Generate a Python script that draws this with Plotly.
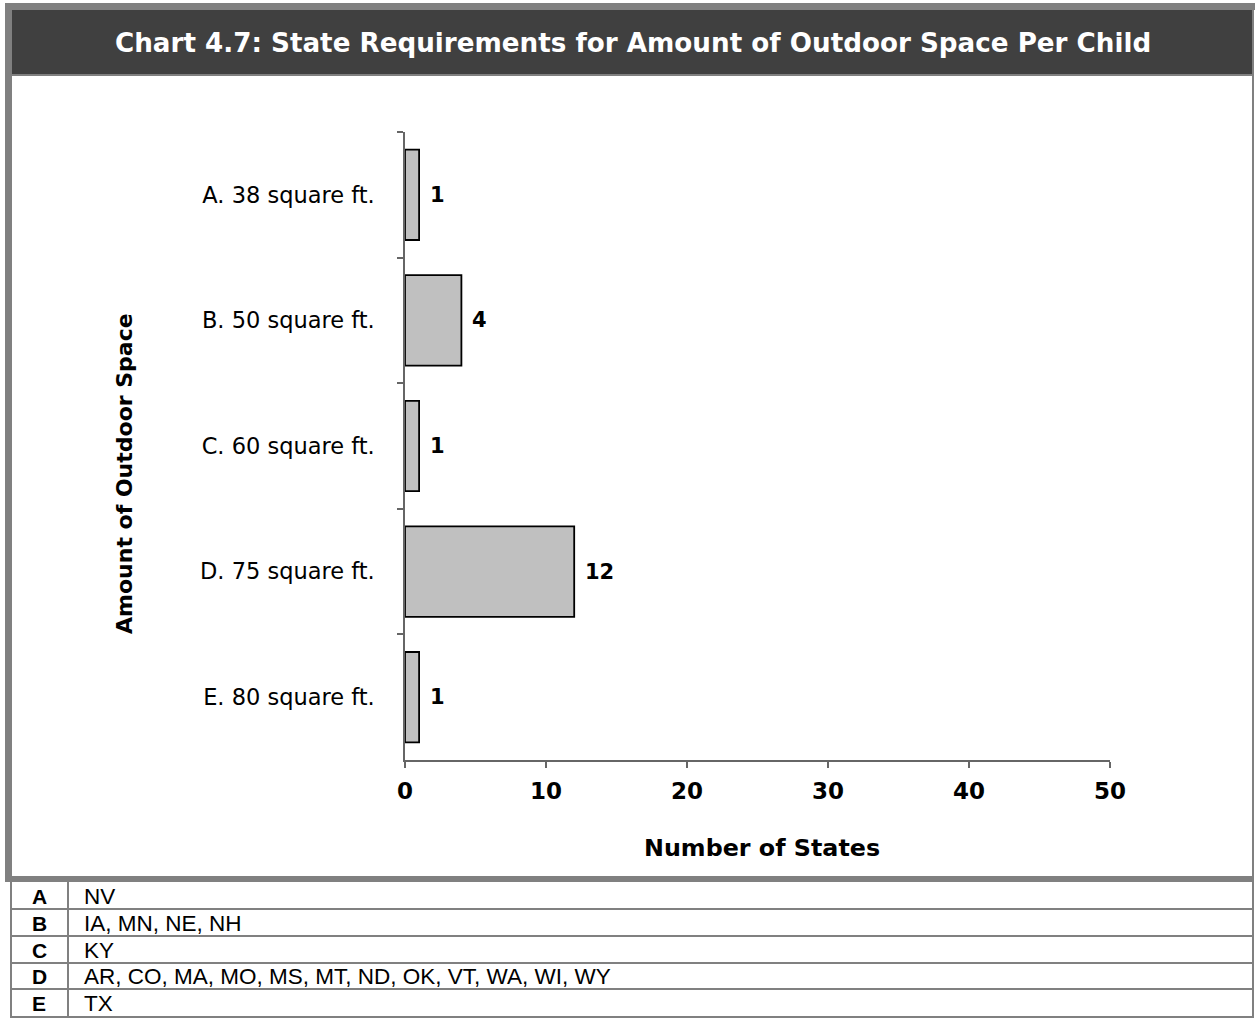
import plotly.graph_objects as go

W, H = 1255, 1018

# ---- data ----
categories = ["A. 38 square ft.", "B. 50 square ft.", "C. 60 square ft.",
              "D. 75 square ft.", "E. 80 square ft."]
num_states = [1, 4, 1, 12, 1]
x_ticks = [0, 10, 20, 30, 40, 50]

table_letters = ["A", "B", "C", "D", "E"]
table_states = ["NV", "IA, MN, NE, NH", "KY",
                "AR, CO, MA, MO, MS, MT, ND, OK, VT, WA, WI, WY", "TX"]

title_text = "Chart 4.7: State Requirements for Amount of Outdoor Space Per Child"
y_title = "Amount of Outdoor Space"
x_title = "Number of States"


def X(px):
    return px / W


def Y(py):
    return 1 - py / H


VERD = "DejaVu Sans"
ARIAL = "Liberation Sans, Arial"
GRAY = "#808080"

fig = go.Figure()
fig.add_trace(go.Bar(
    x=num_states, y=categories, orientation="h",
    marker=dict(color="#c0c0c0", line=dict(color="black", width=1.8)),
    hoverinfo="skip", showlegend=False,
))

annotations = []
# data labels
for c, v in zip(categories, num_states):
    annotations.append(dict(
        x=v, y=c, xref="x", yref="y", text=str(v), showarrow=False,
        xanchor="left", yanchor="middle", xshift=9,
        font=dict(family=VERD, size=21, color="black", weight="bold"),
    ))

# title
annotations.append(dict(
    x=X(633), y=Y(43), xref="paper", yref="paper", text=title_text,
    showarrow=False, xanchor="center", yanchor="middle",
    font=dict(family=VERD, size=26.2, color="white", weight="bold"),
))
# axis titles
annotations.append(dict(
    x=X(124), y=Y(474), xref="paper", yref="paper", text=y_title,
    showarrow=False, xanchor="center", yanchor="middle", textangle=-90,
    font=dict(family=VERD, size=22, color="black", weight="bold"),
))
annotations.append(dict(
    x=X(762), y=Y(848), xref="paper", yref="paper", text=x_title,
    showarrow=False, xanchor="center", yanchor="middle",
    font=dict(family=VERD, size=23.8, color="black", weight="bold"),
))

# table text
row_edges = [882, 909, 936, 963, 989, 1017]
for i, (L, s) in enumerate(zip(table_letters, table_states)):
    yc = (row_edges[i] + row_edges[i + 1]) / 2 + 0.5
    annotations.append(dict(
        x=X(39), y=Y(yc), xref="paper", yref="paper", text=L,
        showarrow=False, xanchor="center", yanchor="middle",
        font=dict(family=ARIAL, size=21, color="black", weight="bold"),
    ))
    annotations.append(dict(
        x=X(82), y=Y(yc), xref="paper", yref="paper", text=s,
        showarrow=False, xanchor="left", yanchor="middle",
        font=dict(family=ARIAL, size=22.5, color="black"),
    ))

shapes = []


def rect(x0, y0, x1, y1, color):
    shapes.append(dict(type="rect", xref="paper", yref="paper",
                       x0=X(x0), x1=X(x1), y0=Y(y1), y1=Y(y0),
                       fillcolor=color, line=dict(width=0), layer="below"))


# outer frame
rect(5, 3, 1255, 10, GRAY)          # top border
rect(5, 3, 12, 882, GRAY)           # left thick border
rect(10, 876, 12, 1018, GRAY)       # left border (table)
rect(1252, 3, 1254, 1018, GRAY)     # right border
rect(12, 10, 1252, 74, "#404040")   # title band
rect(12, 74, 1252, 76, GRAY)        # line under title
rect(5, 876, 1254, 882, GRAY)       # thick line above table
for e in row_edges[1:]:
    rect(10, e - 1, 1254, e + 1, GRAY)
rect(67, 882, 69, 1018, GRAY)       # column separator

fig.update_layout(
    width=W, height=H,
    margin=dict(l=0, r=0, t=0, b=0),
    paper_bgcolor="white", plot_bgcolor="white",
    template="none",
    bargap=0.28,
    shapes=shapes,
    annotations=annotations,
    xaxis=dict(
        domain=[X(405), X(1110)], range=[0, 50], tickvals=x_ticks,
        showgrid=False, zeroline=False, showline=True, linecolor="#666666",
        linewidth=1.5, ticks="outside", ticklen=6, tickcolor="#666666",
        tickwidth=1.5, automargin=False,
        tickfont=dict(family=VERD, size=23, color="black", weight="bold"),
        ticklabelstandoff=4,
    ),
    yaxis=dict(
        domain=[Y(760), Y(132)], autorange="reversed",
        categoryorder="array", categoryarray=categories,
        showgrid=False, zeroline=False, showline=True, linecolor="#666666",
        linewidth=1.5, ticks="outside", ticklen=6, tickcolor="#666666",
        tickwidth=1.5, tickson="boundaries", automargin=False,
        tickfont=dict(family=VERD, size=22.5, color="black"),
        ticklabelstandoff=24,
    ),
)

fig.write_html("out.html",
               config={"displayModeBar": False},
               post_script="document.body.style.margin='0';"
                           "document.body.style.overflow='hidden';")
